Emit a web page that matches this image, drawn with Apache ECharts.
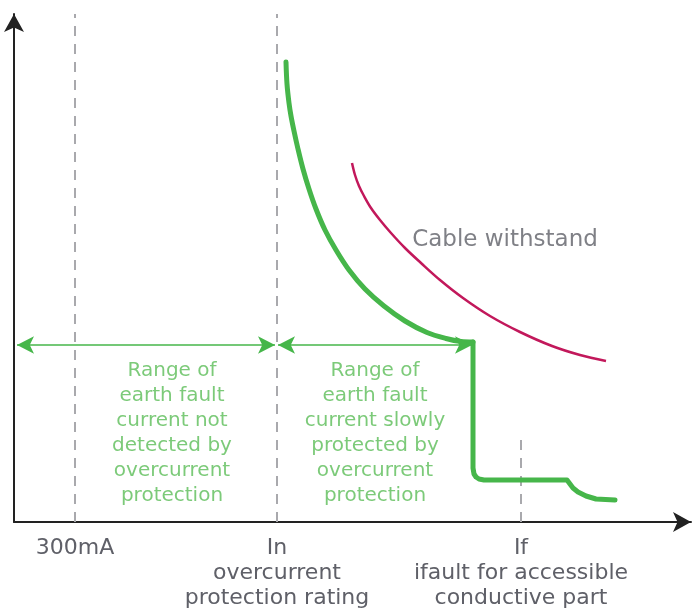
<!DOCTYPE html>
<html><head><meta charset="utf-8">
<script src="https://cdn.jsdelivr.net/npm/echarts@6/dist/echarts.min.js"></script>
<style>html,body{margin:0;padding:0;background:#fff}#c{width:695px;height:611px}</style>
</head><body><div id="c"></div>
<script>
// Schematic units: x = current (arbitrary), y = time (arbitrary)
const tickValues = [61, 263, 507];
const tickLabels = ['300mA', 'In\novercurrent\nprotection rating', 'If\nifault for accessible\nconductive part'];
// Overcurrent protection curve: inverse-time part
const protCurveX = [272,273,275,277,280,284,289,295,302,311,322,335,351,370,391,413,432,447,459];
const protCurveY = [460,438,419,406,391,373,353,333,313,292,272,252,233,216,201,189.5,183.5,180.5,180];
// Overcurrent protection curve: instantaneous step part
const protStepX = [459,459,460,462,465,470,553,556,559,564,572,582,601];
const protStepY = [180, 54, 48, 45, 43, 42, 42, 38, 34, 30, 26, 23, 22];
// Cable withstand curve
const cableX = [338,341,345,350,357,366,377,391,407,426,449,476,506,538,566,592];
const cableY = [359,347,336,326,314,302,289,274,259,242,224,206,190,176,167,161];
const rangeLevel = 177;
const rangeBounds = [3, 261, 264, 458];
const rangeTexts = ['Range of\nearth fault\ncurrent not\ndetected by\novercurrent\nprotection',
                    'Range of\nearth fault\ncurrent slowly\nprotected by\novercurrent\nprotection'];
const rangeTextY = 164;
const ifDashTop = 87;
const cableLabel = 'Cable withstand';
const cableLabelPos = [491, 282];

const GREEN = '#46b64a', TGREEN = '#5bbd57', RED = '#c2185b', GRAY = '#5f6068', DASH = '#a9a9ad';
const FONT = '"DejaVu Sans", sans-serif';

const chart = echarts.init(document.getElementById('c'), null, {renderer: 'canvas'});
const zip = (a, b) => a.map((v, i) => [v, b[i]]);
const dashLine = (x, top) => ({
  type: 'line', data: [[x, 0], [x, top]], symbol: 'none', silent: true,
  lineStyle: {color: DASH, width: 2, type: [10, 8]}, z: 1
});
chart.setOption({
  animation: false,
  grid: {left: 14, right: 4, top: 14, bottom: 89},
  xAxis: {
    type: 'value', min: 0, max: 677,
    axisLine: {lineStyle: {color: '#222', width: 2}, symbol: ['none', 'arrow'], symbolSize: [15, 18]},
    axisTick: {show: false}, splitLine: {show: false},
    axisLabel: {
      customValues: tickValues, color: GRAY, fontSize: 22, fontFamily: FONT, lineHeight: 25,
      margin: 14, verticalAlign: 'top',
      formatter: v => tickLabels[tickValues.indexOf(v)] || ''
    }
  },
  yAxis: {
    type: 'value', min: 0, max: 508,
    axisLine: {show: true, lineStyle: {color: '#222', width: 2}, symbol: ['none', 'arrow'], symbolSize: [15, 18]},
    axisTick: {show: false}, splitLine: {show: false}, axisLabel: {show: false}
  },
  series: [
    dashLine(tickValues[0], 508),
    dashLine(tickValues[1], 508),
    dashLine(tickValues[2], ifDashTop),
    {
      type: 'line', data: zip(cableX, cableY), symbol: 'none', smooth: 0.35,
      lineStyle: {color: RED, width: 2.5}, z: 3
    },
    {
      type: 'line', data: zip(protCurveX, protCurveY), symbol: 'none', smooth: 0.35,
      lineStyle: {color: GREEN, width: 5, cap: 'round', join: 'round'}, z: 4
    },
    {
      type: 'line', data: zip(protStepX, protStepY), symbol: 'none', smooth: false,
      lineStyle: {color: GREEN, width: 5, cap: 'round', join: 'round'}, z: 4
    },
    {
      type: 'line', data: [], symbol: 'none',
      markLine: {
        silent: true, symbol: ['arrow', 'arrow'], symbolSize: [13, 17],
        label: {show: false},
        lineStyle: {color: GREEN, width: 1.5, type: 'solid'},
        data: [
          [{coord: [rangeBounds[0], rangeLevel]}, {coord: [rangeBounds[1], rangeLevel]}],
          [{coord: [rangeBounds[2], rangeLevel]}, {coord: [rangeBounds[3], rangeLevel]}]
        ]
      }
    },
    {
      type: 'scatter', symbolSize: 0, silent: true, clip: false,
      data: [
        {value: [(rangeBounds[0] + rangeBounds[1]) / 2 + 26, rangeTextY], label: {formatter: rangeTexts[0], color: TGREEN}},
        {value: [(rangeBounds[2] + rangeBounds[3]) / 2, rangeTextY], label: {formatter: rangeTexts[1], color: TGREEN}},
        {value: cableLabelPos, label: {formatter: cableLabel, color: GRAY, verticalAlign: 'middle', fontSize: 23}}
      ],
      label: {show: true, position: 'inside', align: 'center', verticalAlign: 'top',
              fontSize: 20, lineHeight: 25, fontFamily: FONT}
    }
  ]
});
</script></body></html>
